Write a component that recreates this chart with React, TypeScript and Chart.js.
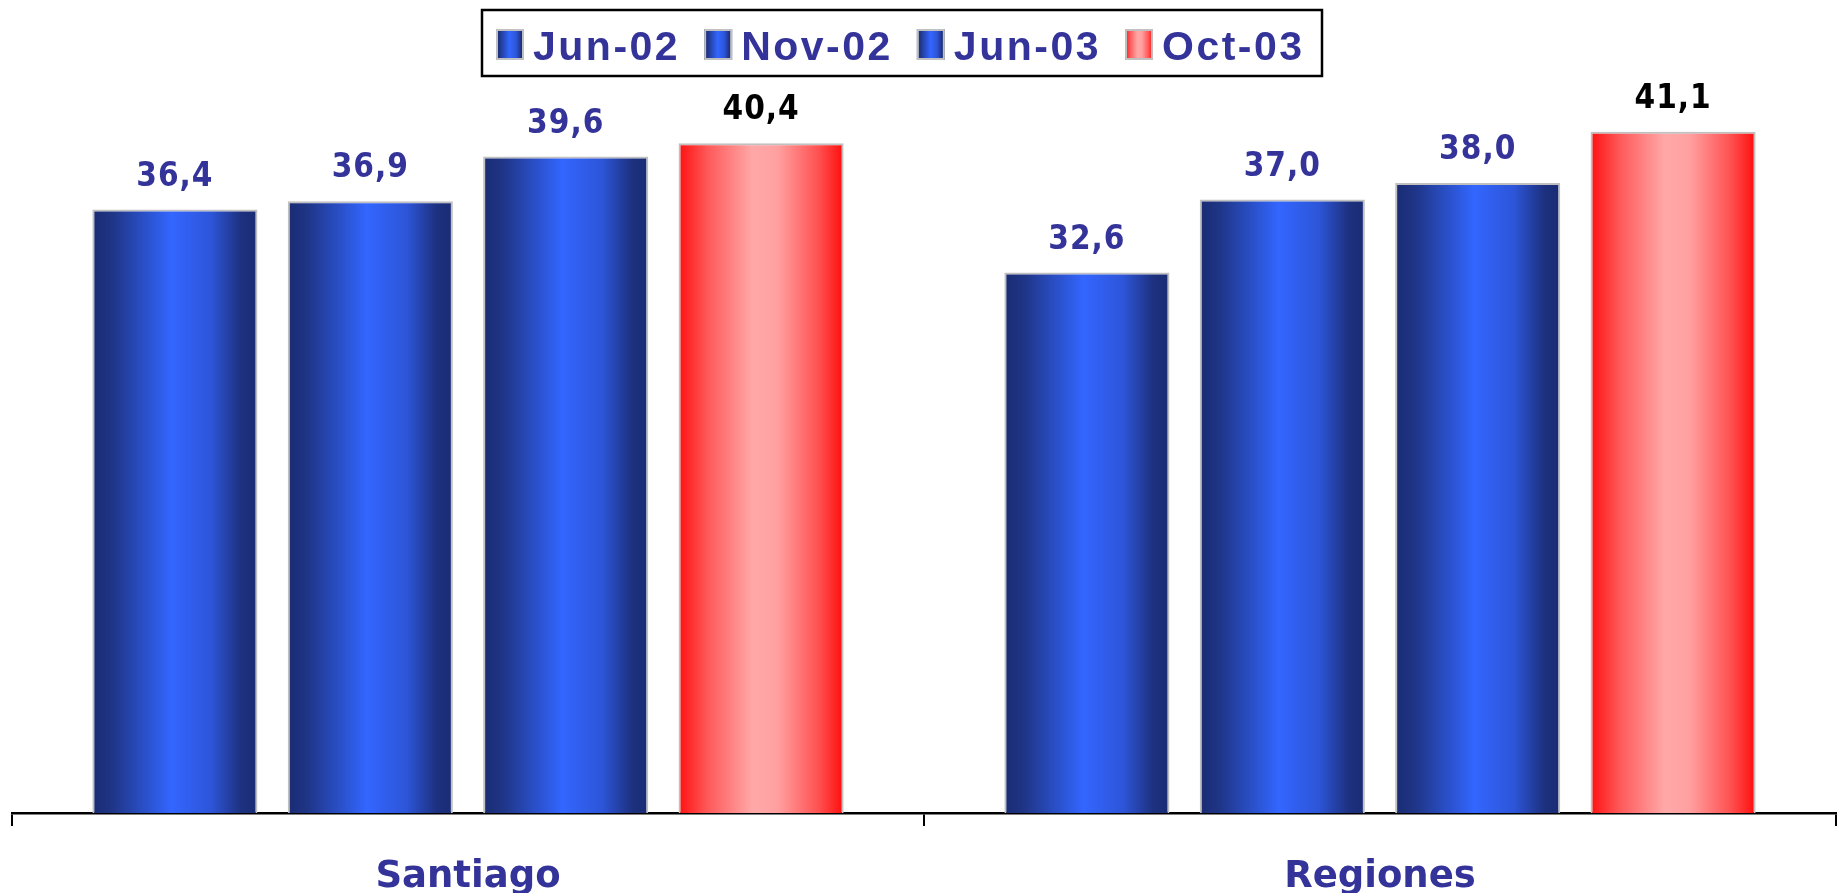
import React, { useEffect, useRef } from 'react';
import { Chart, registerables } from 'chart.js';

Chart.register(...registerables);

const categories = ['Santiago', 'Regiones'];
const seriesNames = ['Jun-02', 'Nov-02', 'Jun-03', 'Oct-03'];
const jun02 = [36.4, 32.6];
const nov02 = [36.9, 37.0];
const jun03 = [39.6, 38.0];
const oct03 = [40.4, 41.1];
const seriesValues = [jun02, nov02, jun03, oct03];
const seriesKinds = ['blue', 'blue', 'blue', 'red'];
const labelColors = ['#333399', '#333399', '#333399', '#000000'];

const NAVY = '#333399';

function makeGrad(ctx: CanvasRenderingContext2D, x0: number, x1: number, kind: string) {
  const g = ctx.createLinearGradient(x0, 0, x1, 0);
  if (kind === 'red') {
    g.addColorStop(0, '#ff1010');
    g.addColorStop(0.18, '#ff5a5a');
    g.addColorStop(0.45, '#ffa8a8');
    g.addColorStop(0.6, '#ffa0a0');
    g.addColorStop(0.85, '#ff5050');
    g.addColorStop(1, '#ff0c0c');
  } else {
    g.addColorStop(0, '#192b72');
    g.addColorStop(0.12, '#1f3586');
    g.addColorStop(0.48, '#3366ff');
    g.addColorStop(0.72, '#2d55d8');
    g.addColorStop(0.9, '#1d3180');
    g.addColorStop(1, '#192b72');
  }
  return g;
}

const gradientPlugin = {
  id: 'gradBars',
  beforeDatasetsDraw(chart: any) {
    const ctx = chart.ctx;
    chart.data.datasets.forEach((ds: any, di: number) => {
      const meta = chart.getDatasetMeta(di);
      meta.data.forEach((el: any) => {
        const { x, width } = el.getProps(['x', 'width'], true);
        const g = makeGrad(ctx, x - width / 2, x + width / 2, seriesKinds[di]);
        el.options = { ...el.options, backgroundColor: g };
      });
    });
  },
};

const valueLabelPlugin = {
  id: 'valueLabels',
  afterDatasetsDraw(chart: any) {
    const ctx = chart.ctx;
    ctx.save();
    ctx.font = 'bold 33px "DejaVu Sans Condensed"';
    (ctx as any).letterSpacing = '1px';
    ctx.textAlign = 'center';
    ctx.textBaseline = 'alphabetic';
    chart.data.datasets.forEach((ds: any, di: number) => {
      const meta = chart.getDatasetMeta(di);
      meta.data.forEach((el: any, i: number) => {
        const v = ds.data[i] as number;
        ctx.fillStyle = labelColors[di];
        ctx.fillText(v.toFixed(1).replace('.', ','), el.x, el.y - 24);
      });
    });
    ctx.restore();
  },
};

const legendPlugin = {
  id: 'boxLegend',
  afterDraw(chart: any) {
    const ctx = chart.ctx;
    ctx.save();
    ctx.font = 'bold 41px "Liberation Sans"';
    (ctx as any).letterSpacing = '2.5px';
    ctx.textBaseline = 'alphabetic';
    ctx.textAlign = 'left';
    const swW = 28;
    const swH = 31;
    const gapText = 9;
    const gapItem = 24;
    const boxLeft = 482;
    const boxRight = 1322;
    let x = 496;
    const swTop = 29;
    const baseline = 60;
    seriesNames.forEach((n, i) => {
      ctx.fillStyle = makeGrad(ctx, x, x + swW, seriesKinds[i]);
      ctx.fillRect(x, swTop, swW, swH);
      ctx.strokeStyle = '#c0c0c0';
      ctx.lineWidth = 2;
      ctx.strokeRect(x + 1, swTop + 1, swW - 2, swH - 2);
      x += swW + gapText;
      ctx.fillStyle = NAVY;
      ctx.fillText(n, x, baseline);
      x += ctx.measureText(n).width + gapItem;
    });
    ctx.strokeStyle = '#000000';
    ctx.lineWidth = 2.5;
    ctx.strokeRect(boxLeft, 10, boxRight - boxLeft, 66);
    ctx.restore();
  },
};

export default function App() {
  const ref = useRef<HTMLCanvasElement | null>(null);
  useEffect(() => {
    if (!ref.current) return;
    const chart = new Chart(ref.current, {
      type: 'bar',
      data: {
        labels: categories,
        datasets: seriesNames.map((name, i) => ({
          label: name,
          data: seriesValues[i],
          backgroundColor: seriesKinds[i] === 'red' ? '#ff6060' : '#2a4fd0',
          borderColor: '#c0c0c0',
          borderWidth: 2,
          categoryPercentage: 0.857,
          barPercentage: 0.845,
        })),
      },
      options: {
        animation: false,
        responsive: true,
        maintainAspectRatio: false,
        layout: { padding: { top: 67, left: 12, right: 9, bottom: 0 } },
        plugins: {
          legend: { display: false },
          tooltip: { enabled: false },
          title: { display: false },
        },
        scales: {
          y: {
            display: false,
            min: 0,
            max: 45,
          },
          x: {
            z: 1,
            offset: true,
            afterFit: (scale: any) => {
              scale.height = 80;
            },
            grid: {
              display: true,
              offset: true,
              drawOnChartArea: false,
              drawTicks: true,
              tickLength: 13,
              color: '#000000',
              lineWidth: 2,
            },
            border: { display: true, color: '#000000', width: 2.5 },
            ticks: {
              color: NAVY,
              padding: 29,
              font: { family: '"DejaVu Sans"', size: 37, weight: 'bold' },
            },
          },
        },
      },
      plugins: [gradientPlugin, valueLabelPlugin, legendPlugin],
    });
    return () => chart.destroy();
  }, []);
  return (
    <div style={{ position: 'absolute', left: 0, top: 0, width: 1845, height: 893, background: '#ffffff' }}>
      <canvas ref={ref} />
    </div>
  );
}
